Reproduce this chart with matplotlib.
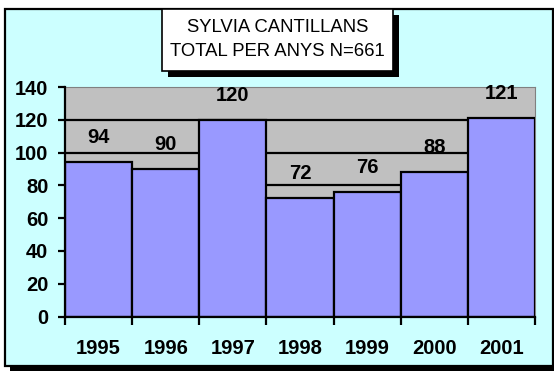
import matplotlib.pyplot as plt
from matplotlib.patches import Rectangle
import numpy as np

plt.rcParams['font.family'] = ['Liberation Sans', 'DejaVu Sans']

anys = ['1995', '1996', '1997', '1998', '1999', '2000', '2001']
totals = [94, 90, 120, 72, 76, 88, 121]
titol = ["SYLVIA CANTILLANS", "TOTAL PER ANYS N=661"]

W, H = 554, 371
fig = plt.figure(figsize=(W / 100, H / 100), dpi=100)
fig.patch.set_facecolor('white')

def px(x, y, w, h):
    # pixel box (from top-left) to figure fraction
    return (x / W, 1 - (y + h) / H), w / W, h / H

# marc exterior amb ombra
xy, w, h = px(10, 13, 548, 358)
fig.patches.append(Rectangle(xy, w, h, transform=fig.transFigure, facecolor='black', edgecolor='none', zorder=0))
xy, w, h = px(5, 9, 548, 357)
fig.patches.append(Rectangle(xy, w, h, transform=fig.transFigure, facecolor='#CCFFFF', edgecolor='black', linewidth=1.6, zorder=1))

ax = fig.add_axes([65 / W, 1 - 316.5 / H, 470 / W, 229.5 / H])
ax.set_facecolor('#C0C0C0')
ax.set_zorder(2)

x = np.arange(len(anys))
ax.bar(x, totals, width=1.0, color='#9999FF', edgecolor='black', linewidth=1.6, zorder=3)

for xi, v in zip(x, totals):
    ax.text(xi, v + 15, str(v), ha='center', va='center',
            fontsize=14.5, fontweight='bold', zorder=4)

ax.set_xlim(-0.5, len(anys) - 0.5)
ax.set_ylim(0, 140)
ax.set_yticks(np.arange(0, 141, 20))
for yv in range(20, 140, 20):
    ax.axhline(yv, color='black', linewidth=1.6, zorder=1)

ax.set_xticks(x)
ax.set_xticklabels(anys)
ax.set_xticks(np.arange(-0.5, len(anys), 1.0), minor=True)
ax.tick_params(axis='x', which='major', length=0, pad=16, labelsize=14.5)
ax.tick_params(axis='x', which='minor', length=5.8, width=1.6, direction='out')
ax.tick_params(axis='y', length=5, width=1.6, pad=7, labelsize=14.5)
for lab in ax.get_xticklabels() + ax.get_yticklabels():
    lab.set_fontweight('bold')

ax.spines['left'].set_linewidth(1.6)
ax.spines['bottom'].set_linewidth(1.6)
ax.spines['top'].set_color('#808080')
ax.spines['right'].set_color('#808080')
ax.spines['left'].set_zorder(5)
ax.spines['bottom'].set_zorder(5)

# caixa del títol amb ombra
xy, w, h = px(168, 15, 231, 62)
fig.patches.append(Rectangle(xy, w, h, transform=fig.transFigure, facecolor='black', edgecolor='none', zorder=5))
xy, w, h = px(162, 9, 231, 62)
fig.patches.append(Rectangle(xy, w, h, transform=fig.transFigure, facecolor='white', edgecolor='black', linewidth=1.2, zorder=6))
for yy, linia in zip([27, 52], titol):
    fig.text(277.5 / W, 1 - yy / H, linia, ha='center', va='center', fontsize=13.3, zorder=7)

fig.savefig('out.png', dpi=100)
